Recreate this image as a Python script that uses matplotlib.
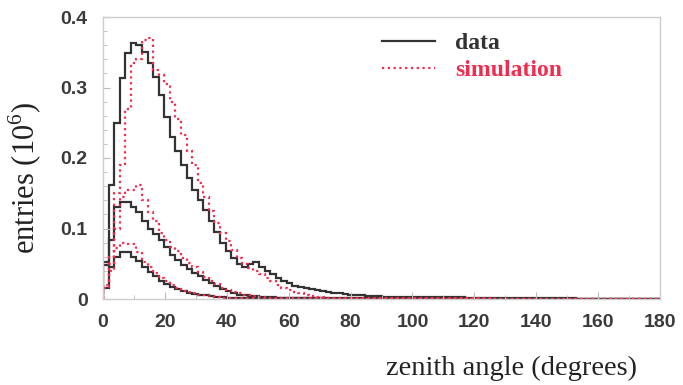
import numpy as np
import matplotlib
matplotlib.use("Agg")
import matplotlib.pyplot as plt

# bin edges: 100 bins of 1.8 degrees
edges = np.linspace(0, 180, 101)

# entries (10^6) per bin
data_all = [0.052, 0.162, 0.25, 0.313, 0.349, 0.363, 0.36, 0.35, 0.335, 0.315,
            0.29, 0.258, 0.23, 0.21, 0.19, 0.172, 0.155, 0.14, 0.126, 0.11,
            0.095, 0.08, 0.068, 0.058, 0.05, 0.046, 0.05, 0.053, 0.046, 0.04,
            0.035, 0.03, 0.025, 0.022, 0.019, 0.017, 0.015, 0.014, 0.013, 0.011,
            0.01, 0.009, 0.008, 0.007, 0.006, 0.005, 0.005, 0.004, 0.004, 0.004,
            0.003, 0.003, 0.003, 0.003, 0.003, 0.003, 0.003, 0.003, 0.003, 0.003,
            0.003, 0.003, 0.003, 0.003, 0.003, 0.002, 0.002, 0.002, 0.002, 0.002,
            0.002, 0.002, 0.002, 0.002, 0.002, 0.001, 0.001, 0.001, 0.001, 0.001,
            0.001, 0.001, 0.001, 0.001, 0.001, 0.0, 0.0, 0.0, 0.0, 0.0,
            0.0, 0.0, 0.0, 0.0, 0.0, 0.0, 0.0, 0.0, 0.0, 0.0]

sim_all = [0.02, 0.06, 0.15, 0.19, 0.27, 0.335, 0.34, 0.367, 0.37, 0.325,
           0.318, 0.305, 0.28, 0.255, 0.233, 0.21, 0.19, 0.165, 0.145, 0.125,
           0.108, 0.094, 0.082, 0.07, 0.058, 0.05, 0.044, 0.04, 0.035, 0.03,
           0.025, 0.02, 0.016, 0.013, 0.01, 0.008, 0.006, 0.004, 0.003, 0.003,
           0.002, 0.002, 0.002, 0.002, 0.002, 0.001, 0.001, 0.001, 0.001, 0.001,
           0.001, 0.001, 0.001, 0.001, 0.001, 0.001, 0.001, 0.001, 0.001, 0.001,
           0.001, 0.001, 0.001, 0.001, 0.001, 0.001, 0.001, 0.001, 0.001, 0.001,
           0.0, 0.0, 0.0, 0.0, 0.0, 0.0, 0.0, 0.0, 0.0, 0.0,
           0.0, 0.0, 0.0, 0.0, 0.0, 0.0, 0.0, 0.0, 0.0, 0.0,
           0.0, 0.0, 0.0, 0.0, 0.0, 0.0, 0.0, 0.0, 0.0, 0.0]

data_mid = [0.048, 0.084, 0.13, 0.138, 0.138, 0.13, 0.123, 0.11, 0.1, 0.092,
            0.084, 0.074, 0.062, 0.055, 0.048, 0.042, 0.037, 0.032, 0.027, 0.023,
            0.018, 0.014, 0.011, 0.008, 0.006, 0.005, 0.004, 0.004, 0.003, 0.003,
            0.003, 0.002, 0.002, 0.002, 0.002, 0.002, 0.002, 0.001, 0.001, 0.001,
            0.001, 0.001, 0.001, 0.001, 0.001, 0.001, 0.001, 0.001, 0.001, 0.001,
            0.0, 0.0, 0.0, 0.0, 0.0, 0.0, 0.0, 0.0, 0.0, 0.0,
            0.0, 0.0, 0.0, 0.0, 0.0, 0.0, 0.0, 0.0, 0.0, 0.0,
            0.0, 0.0, 0.0, 0.0, 0.0, 0.0, 0.0, 0.0, 0.0, 0.0,
            0.0, 0.0, 0.0, 0.0, 0.0, 0.0, 0.0, 0.0, 0.0, 0.0,
            0.0, 0.0, 0.0, 0.0, 0.0, 0.0, 0.0, 0.0, 0.0, 0.0]

sim_mid = [0.02, 0.05, 0.1, 0.145, 0.155, 0.155, 0.162, 0.14, 0.124, 0.11,
           0.094, 0.084, 0.074, 0.068, 0.058, 0.051, 0.045, 0.038, 0.031, 0.026,
           0.021, 0.016, 0.013, 0.01, 0.008, 0.006, 0.005, 0.004, 0.003, 0.002,
           0.002, 0.001, 0.001, 0.001, 0.001, 0.001, 0.001, 0.001, 0.001, 0.001,
           0.0, 0.0, 0.0, 0.0, 0.0, 0.0, 0.0, 0.0, 0.0, 0.0,
           0.0, 0.0, 0.0, 0.0, 0.0, 0.0, 0.0, 0.0, 0.0, 0.0,
           0.0, 0.0, 0.0, 0.0, 0.0, 0.0, 0.0, 0.0, 0.0, 0.0,
           0.0, 0.0, 0.0, 0.0, 0.0, 0.0, 0.0, 0.0, 0.0, 0.0,
           0.0, 0.0, 0.0, 0.0, 0.0, 0.0, 0.0, 0.0, 0.0, 0.0,
           0.0, 0.0, 0.0, 0.0, 0.0, 0.0, 0.0, 0.0, 0.0, 0.0]

data_low = [0.015, 0.045, 0.06, 0.067, 0.066, 0.06, 0.054, 0.046, 0.039, 0.032,
            0.026, 0.021, 0.017, 0.014, 0.011, 0.009, 0.007, 0.006, 0.005, 0.004,
            0.003, 0.003, 0.002, 0.002, 0.002, 0.002, 0.002, 0.002, 0.002, 0.002,
            0.001, 0.001, 0.001, 0.001, 0.001, 0.001, 0.001, 0.001, 0.001, 0.001,
            0.0, 0.0, 0.0, 0.0, 0.0, 0.0, 0.0, 0.0, 0.0, 0.0,
            0.0, 0.0, 0.0, 0.0, 0.0, 0.0, 0.0, 0.0, 0.0, 0.0,
            0.0, 0.0, 0.0, 0.0, 0.0, 0.0, 0.0, 0.0, 0.0, 0.0,
            0.0, 0.0, 0.0, 0.0, 0.0, 0.0, 0.0, 0.0, 0.0, 0.0,
            0.0, 0.0, 0.0, 0.0, 0.0, 0.0, 0.0, 0.0, 0.0, 0.0,
            0.0, 0.0, 0.0, 0.0, 0.0, 0.0, 0.0, 0.0, 0.0, 0.0]

sim_low = [0.015, 0.04, 0.072, 0.08, 0.078, 0.078, 0.066, 0.052, 0.045, 0.037,
           0.03, 0.025, 0.02, 0.016, 0.012, 0.01, 0.008, 0.006, 0.005, 0.004,
           0.003, 0.002, 0.002, 0.001, 0.001, 0.001, 0.001, 0.001, 0.001, 0.001,
           0.0, 0.0, 0.0, 0.0, 0.0, 0.0, 0.0, 0.0, 0.0, 0.0,
           0.0, 0.0, 0.0, 0.0, 0.0, 0.0, 0.0, 0.0, 0.0, 0.0,
           0.0, 0.0, 0.0, 0.0, 0.0, 0.0, 0.0, 0.0, 0.0, 0.0,
           0.0, 0.0, 0.0, 0.0, 0.0, 0.0, 0.0, 0.0, 0.0, 0.0,
           0.0, 0.0, 0.0, 0.0, 0.0, 0.0, 0.0, 0.0, 0.0, 0.0,
           0.0, 0.0, 0.0, 0.0, 0.0, 0.0, 0.0, 0.0, 0.0, 0.0,
           0.0, 0.0, 0.0, 0.0, 0.0, 0.0, 0.0, 0.0, 0.0, 0.0]

x_ticks = [0, 20, 40, 60, 80, 100, 120, 140, 160, 180]
y_ticks = [0, 0.1, 0.2, 0.3, 0.4]
y_tick_labels = ["0", "0.1", "0.2", "0.3", "0.4"]

black = "#333333"
red = "#f22c4e"

fig = plt.figure(figsize=(6.83, 3.85), dpi=100)
ax = fig.add_axes([103 / 683, 1 - 299 / 385, 557 / 683, 282 / 385])

# data (solid) and simulation (dotted)
for vals in [data_all, data_mid, data_low]:
    ax.stairs(vals, edges, color=black, lw=1.6, baseline=0)
for vals in [sim_all, sim_mid, sim_low]:
    ax.stairs(vals, edges, color=red, lw=1.6, linestyle=(0, (1, 1.6)), baseline=0)

ax.set_xlim(0, 180)
ax.set_ylim(0, 0.4)

ax.set_xticks(x_ticks)
ax.set_yticks(y_ticks)
ax.set_yticklabels(y_tick_labels)
ax.set_xticks(np.arange(0, 181, 10), minor=True)
ax.set_yticks(np.arange(0, 0.41, 0.02), minor=True)
ax.tick_params(which="both", direction="in", color="#bbbbbb",
               labelsize=14, labelcolor="#3a3a3a")
ax.tick_params(which="major", length=5, width=0.8)
ax.tick_params(which="minor", length=3, width=0.6)
ax.tick_params(axis="y", pad=11)
ax.tick_params(axis="x", pad=11)
for lab in ax.get_xticklabels() + ax.get_yticklabels():
    lab.set_family("Liberation Sans")
    lab.set_weight("bold")

for sp in ax.spines.values():
    sp.set_color("#cccccc")
    sp.set_linewidth(1.0)

# axis titles
fig.text(25 / 683, 1 - 178 / 385, "entries (10$^{\\mathregular{6}}$)", rotation=90,
         ha="center", va="center", fontsize=22, family="Liberation Serif",
         color="#222222")
fig.text(637 / 683, 1 - 368 / 385, "zenith angle (degrees)", ha="right",
         va="center", fontsize=20.5, family="Liberation Serif", color="#222222")

# legend
handles = [plt.Line2D([], [], color=black, lw=1.6),
           plt.Line2D([], [], color=red, lw=1.6, linestyle=(0, (1, 1.6)))]
leg = ax.legend(handles, ["data", "simulation"], loc="upper left",
                bbox_to_anchor=(0.501, 0.945), frameon=False, borderpad=0,
                borderaxespad=0, handlelength=2.25, handletextpad=0.85,
                labelspacing=0.23,
                prop={"family": "Liberation Serif", "weight": "bold", "size": 17})
leg.get_texts()[0].set_color(black)
leg.get_texts()[1].set_color(red)

fig.savefig("out.png", dpi=100)
